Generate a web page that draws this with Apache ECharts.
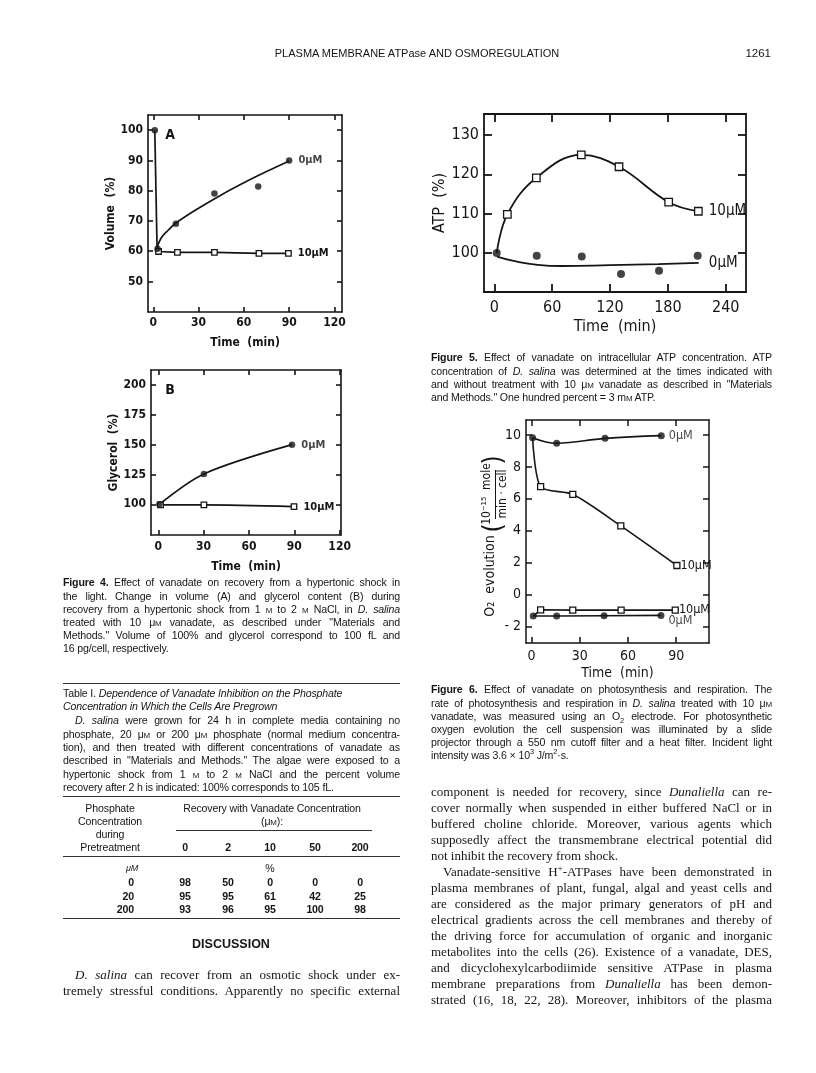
<!DOCTYPE html>
<html>
<head>
<meta charset="utf-8">
<script src="https://cdn.jsdelivr.net/npm/echarts@6/dist/echarts.min.js"></script>
<style>
  html, body { margin: 0; padding: 0; background: #fff; }
  #page { position: relative; width: 816px; height: 1073px; overflow: hidden; background: #fff; }
  #chart { position: absolute; left: 0; top: 0; width: 816px; height: 1073px; }
  .t { position: absolute; white-space: nowrap; color: #151515; }
  .t sup, .t sub { font-size: 0.7em; line-height: 0; }
  .cap { font-family: 'Liberation Sans', Arial, sans-serif; font-size: 10.6px; letter-spacing: -0.15px; }
  .txt { font-family: 'Liberation Serif', 'Times New Roman', serif; font-size: 13px; }
  .j { text-align: justify; text-align-last: justify; }
  .sc { font-size: 0.75em; }
  .rule { position: absolute; height: 0; border-top: 1px solid #333; }
</style>
</head>
<body>
<div id="page"><div id="chart"></div></div>
<script>
// ---- data ----
// Fig 4A volume (%)
const volTime0 = [1, 2.8, 15, 40.5, 69.5, 90]
const volVal0 = [100, 60.8, 69.1, 79.1, 81.4, 90]
const volFitTime = [2.5, 5, 10, 15, 30, 45, 60, 75, 90]
const volFitVal = [61, 64.2, 67, 69.3, 74.2, 78.6, 82.6, 86.3, 89.8]
const volTime10 = [3.5, 16, 40.5, 70, 89.5]
const volVal10 = [59.9, 59.6, 59.6, 59.3, 59.3]
// Fig 4B glycerol (%)
const glyTime0 = [0.7, 30.2, 88.5]
const glyVal0 = [100, 125.5, 150]
const glyTime10 = [1.5, 30.2, 89.8]
const glyVal10 = [99.5, 99.5, 98]
// Fig 5 ATP (%)
const atpTime10 = [2.5, 13.5, 43.6, 90.2, 129.3, 180.8, 211.6]
const atpVal10 = [100, 109.8, 119.1, 124.9, 121.9, 112.9, 110.6]
const atpTime0 = [2.5, 44, 90.7, 131.4, 170.8, 210.9]
const atpVal0 = [100, 99.3, 99.1, 94.7, 95.5, 99.3]
const atpFitTime = [3, 20, 45, 70, 120, 170, 212]
const atpFitVal = [99.1, 98, 97, 96.7, 96.9, 97.2, 97.5]
// Fig 6 O2 evolution
const phoTime0 = [0.6, 15.6, 45.7, 80.7]
const phoVal0 = [9.83, 9.48, 9.79, 9.96]
const phoTime10 = [0.6, 5.6, 25.6, 55.5, 90.4]
const phoVal10 = [9.83, 6.76, 6.28, 4.3, 1.82]
const resTime10 = [1, 5.6, 25.6, 55.7, 89.4]
const resVal10 = [-1.35, -0.96, -0.98, -0.98, -0.98]
const resTime0 = [1, 15.6, 45.1, 80.5]
const resVal0 = [-1.35, -1.35, -1.33, -1.31]
// tick labels
const ticks4X = [0, 30, 60, 90, 120]
const ticks4AY = [50, 60, 70, 80, 90, 100]
const ticks4BY = [100, 125, 150, 175, 200]
const ticks5X = [0, 60, 120, 180, 240]
const ticks5Y = [100, 110, 120, 130]
const ticks6X = [0, 30, 60, 90]
const ticks6Y = [-2, 0, 2, 4, 6, 8, 10]
// table I
const tableVanadate = ['0', '2', '10', '50', '200']
const tablePhosphate = ['0', '20', '200']
const tableRows = [
  [98, 50, 0, 0, 0],
  [95, 95, 61, 42, 25],
  [93, 96, 95, 100, 98]
]

const INK = '#151515'
const NARROW = "'Liberation Sans Narrow', 'DejaVu Sans Condensed', sans-serif"
const page = document.getElementById('page')

// ---- page text ----
const M = '<span class="sc">M</span>'
const uM = '&mu;' + M
const fig4Caption = [
  '<b>Figure 4.</b> Effect of vanadate on recovery from a hypertonic shock in',
  'the light. Change in volume (A) and glycerol content (B) during',
  'recovery from a hypertonic shock from 1 ' + M + ' to 2 ' + M + ' NaCl, in <i>D. salina</i>',
  'treated with 10 ' + uM + ' vanadate, as described under "Materials and',
  'Methods." Volume of 100% and glycerol correspond to 100 fL and',
  '16 pg/cell, respectively.¶'
]
const tableTitle = [
  'Table I. <i>Dependence of Vanadate Inhibition on the Phosphate</i>¶',
  '<i>Concentration in Which the Cells Are Pregrown</i>¶'
]
const tableNote = [
  '|<i>D. salina</i> were grown for 24 h in complete media containing no',
  'phosphate, 20 ' + uM + ' or 200 ' + uM + ' phosphate (normal medium concentra-',
  'tion), and then treated with different concentrations of vanadate as',
  'described in "Materials and Methods." The algae were exposed to a',
  'hypertonic shock from 1 ' + M + ' to 2 ' + M + ' NaCl and the percent volume',
  'recovery after 2 h is indicated: 100% corresponds to 105 fL.¶'
]
const discussion = [
  '|<i>D. salina</i> can recover from an osmotic shock under ex-',
  'tremely stressful conditions. Apparently no specific external'
]
const fig5Caption = [
  '<b>Figure 5.</b> Effect of vanadate on intracellular ATP concentration. ATP',
  'concentration of <i>D. salina</i> was determined at the times indicated with',
  'and without treatment with 10 ' + uM + ' vanadate as described in "Materials',
  'and Methods." One hundred percent = 3 m' + M + ' ATP.¶'
]
const fig6Caption = [
  '<b>Figure 6.</b> Effect of vanadate on photosynthesis and respiration. The',
  'rate of photosynthesis and respiration in <i>D. salina</i> treated with 10 ' + uM,
  'vanadate, was measured using an O<sub>2</sub> electrode. For photosynthetic',
  'oxygen evolution the cell suspension was illuminated by a slide',
  'projector through a 550 nm cutoff filter and a heat filter. Incident light',
  'intensity was 3.6 &times; 10<sup>3</sup> J/m<sup>2</sup>&middot;s.¶'
]
const bodyRight = [
  'component is needed for recovery, since <i>Dunaliella</i> can re-',
  'cover normally when suspended in either buffered NaCl or in',
  'buffered choline chloride. Moreover, various agents which',
  'supposedly affect the transmembrane electrical potential did',
  'not inhibit the recovery from shock.¶',
  '|Vanadate-sensitive H<sup>+</sup>-ATPases have been demonstrated in',
  'plasma membranes of plant, fungal, algal and yeast cells and',
  'are considered as the major primary generators of pH and',
  'electrical gradients across the cell membranes and thereby of',
  'the driving force for accumulation of organic and inorganic',
  'metabolites into the cells (26). Existence of a vanadate, DES,',
  'and dicyclohexylcarbodiimide sensitive ATPase in plasma',
  'membrane preparations from <i>Dunaliella</i> has been demon-',
  'strated (16, 18, 22, 28). Moreover, inhibitors of the plasma'
]

function putLines(lines, x, w, y0, lh, cls) {
  lines.forEach((raw, k) => {
    let html = raw
    let last = false
    let indent = 0
    if (html.endsWith('¶')) { last = true; html = html.slice(0, -1) }
    if (html.startsWith('|')) { indent = 12; html = html.slice(1) }
    const d = document.createElement('div')
    d.className = 't ' + cls + (last ? '' : ' j')
    d.style.left = (x + indent) + 'px'
    d.style.width = (w - indent) + 'px'
    d.style.top = (y0 + k * lh - lh / 2) + 'px'
    d.style.height = lh + 'px'
    d.style.lineHeight = lh + 'px'
    d.innerHTML = html
    page.appendChild(d)
  })
}
function putText(html, cx, cy, cls, align, extra) {
  const d = document.createElement('div')
  d.className = 't ' + cls
  d.style.top = (cy - 7) + 'px'
  d.style.lineHeight = '14px'
  if (align === 'right') { d.style.right = (816 - cx) + 'px' }
  else if (align === 'left') { d.style.left = cx + 'px' }
  else { d.style.left = (cx - 150) + 'px'; d.style.width = '300px'; d.style.textAlign = 'center' }
  if (extra) d.setAttribute('style', d.getAttribute('style') + extra)
  d.innerHTML = html
  page.appendChild(d)
}
function putRule(x, y, w) {
  const d = document.createElement('div')
  d.className = 'rule'
  d.style.left = x + 'px'; d.style.top = y + 'px'; d.style.width = w + 'px'
  page.appendChild(d)
}

// header
putText('PLASMA MEMBRANE ATPase AND OSMOREGULATION', 417, 53, 'cap', 'center', 'font-size:11px;letter-spacing:0;')
putText('1261', 771, 53, 'cap', 'right', 'font-size:11.5px;letter-spacing:0;')

// left column
const LX = 63, LW = 337
putLines(fig4Caption, LX, LW, 583, 13.2, 'cap')
putRule(LX, 683, LW)
putLines(tableTitle, LX, LW, 693, 13, 'cap')
putLines(tableNote, LX, LW, 721, 13.3, 'cap')
putRule(LX, 796, LW)
const tcol = [185, 228, 270, 315, 360]
putText('Phosphate', 110, 808, 'cap', 'center')
putText('Concentration', 110, 821, 'cap', 'center')
putText('during', 110, 834, 'cap', 'center')
putText('Pretreatment', 110, 847, 'cap', 'center')
putText('Recovery with Vanadate Concentration', 272, 808, 'cap', 'center')
putText('(' + uM + '):', 272, 821, 'cap', 'center')
putRule(176, 830, 196)
tableVanadate.forEach((v, i) => putText(v, tcol[i], 847, 'cap', 'center', 'font-weight:bold;'))
putRule(LX, 856, LW)
putText('<i>&mu;M</i>', 132, 868, 'cap', 'center', 'font-size:9px;')
putText('%', 270, 868, 'cap', 'center')
tableRows.forEach((row, r) => {
  const y = 882 + r * 13.5
  putText(tablePhosphate[r], 134, y, 'cap', 'right', 'font-weight:bold;')
  row.forEach((v, i) => putText(String(v), tcol[i], y, 'cap', 'center', 'font-weight:bold;'))
})
putRule(LX, 918, LW)
putText('DISCUSSION', 231, 944, 'cap', 'center', 'font-size:12.5px;font-weight:bold;letter-spacing:0;')
putLines(discussion, LX, LW, 975, 16, 'txt')

// right column
const RX = 431, RW = 341
putLines(fig5Caption, RX, RW, 358, 13.2, 'cap')
putLines(fig6Caption, RX, RW, 690, 13.2, 'cap')
putLines(bodyRight, RX, RW, 792, 16, 'txt')

// ---- charts ----
const zip = (xs, ys) => xs.map((x, i) => [x, ys[i]])
const xAxes = [], yAxes = [], grids = []
function addPanel(c) {
  const g = grids.length
  grids.push({ left: c.box[0], top: c.box[1], width: c.box[2], height: c.box[3] })
  const line = { show: true, onZero: false, lineStyle: { color: INK, width: c.lw } }
  const tick = vals => ({ show: true, inside: true, length: c.tl, customValues: vals, lineStyle: { color: INK, width: c.lw } })
  const font = { color: INK, fontFamily: NARROW, fontSize: c.fs, fontWeight: c.fw }
  const base = { type: 'value', gridIndex: g, splitLine: { show: false } }
  xAxes.push(Object.assign({}, base, {
    position: 'bottom', min: c.x[0], max: c.x[1], axisLine: line, axisTick: tick(c.xt),
    axisLabel: Object.assign({ customValues: c.xt, margin: c.xm }, font),
    name: 'Time  (min)', nameLocation: 'middle', nameGap: c.xg,
    nameTextStyle: { color: INK, fontFamily: NARROW, fontSize: c.nfs, fontWeight: c.fw }
  }))
  xAxes.push(Object.assign({}, base, {
    position: 'top', min: c.x[0], max: c.x[1], axisLine: line, axisTick: tick(c.xt), axisLabel: { show: false }
  }))
  yAxes.push(Object.assign({}, base, {
    position: 'left', min: c.y[0], max: c.y[1], axisLine: line, axisTick: tick(c.yt),
    axisLabel: Object.assign({ customValues: c.yt, margin: c.ym, formatter: v => v < 0 ? '- ' + Math.abs(v) : String(v) }, font),
    name: c.yname || '', nameLocation: 'middle', nameGap: c.yg,
    nameTextStyle: { color: INK, fontFamily: NARROW, fontSize: c.nfs, fontWeight: c.fw }
  }))
  yAxes.push(Object.assign({}, base, {
    position: 'right', min: c.y[0], max: c.y[1], axisLine: line, axisTick: tick(c.yt), axisLabel: { show: false }
  }))
  return { xAxisIndex: 2 * g, yAxisIndex: 2 * g }
}
function endLabel(pts, text, fs, fw, off) {
  return pts.map((p, i) => i < pts.length - 1 ? p : {
    value: p,
    label: { show: true, position: 'right', distance: 4, offset: off || [0, 0], formatter: text,
      color: INK, fontFamily: NARROW, fontSize: fs, fontWeight: fw }
  })
}
const noFirstSymbol = arr => arr.map((d, i) => i === 0 ? { value: d, symbol: 'none' } : d)
const lineS = (ax, data, w, smooth, extra) => Object.assign({
  type: 'line', data, smooth, symbol: 'none', showSymbol: false, silent: true,
  lineStyle: { color: INK, width: w }, itemStyle: { color: INK }, z: 2
}, ax, extra || {})
const dotS = (ax, data, size, extra) => Object.assign({
  type: 'scatter', data, symbol: 'circle', symbolSize: size, itemStyle: { color: INK }, z: 4
}, ax, extra || {})
const boxLine = (ax, data, w, size, smooth) => Object.assign({
  type: 'line', data, smooth, symbol: 'rect', symbolSize: size, showSymbol: true,
  lineStyle: { color: INK, width: w }, itemStyle: { color: '#fff', borderColor: INK, borderWidth: 1.3 }, z: 3
}, ax)

const series = []
// Fig 4A
const pA = addPanel({ box: [148, 115, 194, 197], x: [-3.5, 125], y: [39.9, 105], xt: ticks4X, yt: ticks4AY,
  lw: 1.6, tl: 5, fs: 12, fw: 'bold', nfs: 12, xm: 5, ym: 5, xg: 25, yg: 27, yname: 'Volume  (%)' })
series.push(lineS(pA, [[volTime0[0], volVal0[0]], [volFitTime[0], volFitVal[0]]], 1.7, false))
series.push(lineS(pA, zip(volFitTime, volFitVal), 1.7, 0.4))
series.push(boxLine(pA, noFirstSymbol(endLabel([[1, 60]].concat(zip(volTime10, volVal10)), '10μM', 11, 'bold', [2, 0])), 1.7, 5.5, false))
series.push(dotS(pA, endLabel(zip(volTime0, volVal0), '0μM', 11, 'bold', [2, 0]), 6.5))
// Fig 4B
const pB = addPanel({ box: [151, 370, 190, 165], x: [-4.8, 120.9], y: [74.3, 212.6], xt: ticks4X, yt: ticks4BY,
  lw: 1.6, tl: 5, fs: 12, fw: 'bold', nfs: 12, xm: 6, ym: 5, xg: 26, yg: 27, yname: 'Glycerol  (%)' })
series.push(boxLine(pB, endLabel(zip(glyTime10, glyVal10), '10μM', 11, 'bold', [2, 0]), 1.7, 5.5, 0.3))
series.push(lineS(pB, zip(glyTime0, glyVal0), 1.7, 0.3))
series.push(dotS(pB, endLabel(zip(glyTime0, glyVal0), '0μM', 11, 'bold', [2, 0]), 6.5))
// Fig 5
const p5 = addPanel({ box: [484, 114, 262, 178], x: [-10.7, 261], y: [90.1, 135.3], xt: ticks5X, yt: ticks5Y,
  lw: 1.8, tl: 8, fs: 16, fw: 'normal', nfs: 16, xm: 8, ym: 5, xg: 27, yg: 33, yname: 'ATP  (%)' })
series.push(boxLine(p5, noFirstSymbol(endLabel(zip(atpTime10, atpVal10), '10μM', 15, 'normal', [2, 0])), 1.8, 7.5, 0.4))
series.push(Object.assign(lineS(p5, endLabel(zip(atpFitTime, atpFitVal), '0μM', 15, 'normal', [6, 0]), 1.8, 0.5),
  { symbol: 'circle', symbolSize: 0.1, showSymbol: true }))
series.push(dotS(p5, zip(atpTime0, atpVal0), 8))
// Fig 6
const p6 = addPanel({ box: [526, 420, 183, 223], x: [-3.5, 110.4], y: [-3.04, 10.94], xt: ticks6X, yt: ticks6Y,
  lw: 1.5, tl: 6, fs: 14, fw: 'normal', nfs: 14, xm: 6, ym: 5, xg: 23, yg: 30 })
series.push(boxLine(p6, noFirstSymbol(endLabel(zip(phoTime10, phoVal10), '10μM', 12.5, 'normal', [-4, 0])), 1.6, 6, 0.25))
series.push(lineS(p6, zip(phoTime0, phoVal0), 1.6, 0.4))
series.push(dotS(p6, endLabel(zip(phoTime0, phoVal0), '0μM', 12.5, 'normal', [0, 0]), 7))
series.push(boxLine(p6, noFirstSymbol(endLabel(zip(resTime10, resVal10), '10μM', 12.5, 'normal', [-4, 0])), 1.6, 6, false))
series.push(lineS(p6, zip(resTime0, resVal0), 1.6, false))
series.push(dotS(p6, endLabel(zip(resTime0, resVal0), '0μM', 12.5, 'normal', [0, 5]), 7))

const vt = (text, x, y, fs) => ({
  type: 'text', x, y, rotation: Math.PI / 2, silent: true,
  style: { text, fill: INK, font: fs + 'px ' + NARROW, align: 'center', verticalAlign: 'middle' }
})
const graphics = [
  { type: 'text', x: 170, y: 135, silent: true, style: { text: 'A', fill: INK, font: 'bold 14px ' + NARROW, align: 'center', verticalAlign: 'middle' } },
  { type: 'text', x: 170, y: 390, silent: true, style: { text: 'B', fill: INK, font: 'bold 14px ' + NARROW, align: 'center', verticalAlign: 'middle' } },
  vt('O₂  evolution', 490, 576, 14),
  vt('(', 494, 528, 26),
  vt('10⁻¹⁵  mole', 487, 494, 12),
  vt('min · cell', 503, 494, 12),
  vt(')', 494, 460, 26),
  { type: 'line', silent: true, shape: { x1: 495.5, y1: 470, x2: 495.5, y2: 519 }, style: { stroke: INK, lineWidth: 1 } }
]

const chart = echarts.init(document.getElementById('chart'), null, { renderer: 'canvas' })
chart.setOption({
  animation: false,
  backgroundColor: 'transparent',
  grid: grids,
  xAxis: xAxes,
  yAxis: yAxes,
  series: series,
  graphic: graphics
})
</script>
</body>
</html>
